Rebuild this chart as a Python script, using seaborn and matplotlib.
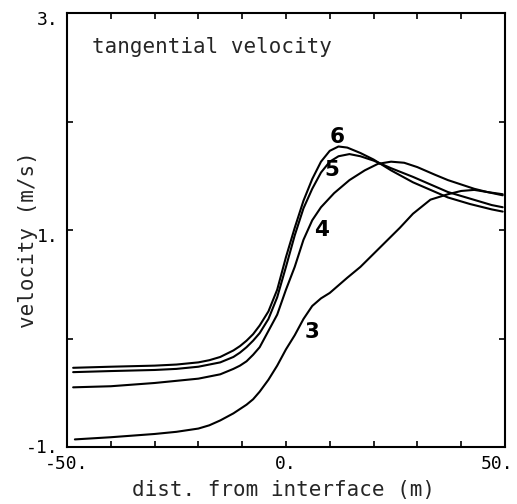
import matplotlib
matplotlib.use("Agg")
import matplotlib.pyplot as plt
import matplotlib.transforms as mtransforms
import numpy as np
import pandas as pd
import seaborn as sns

# Tangential velocity profiles across the interface, runs 3-6
x3 = [-48.2, -40, -30, -25, -20, -17.5, -15, -12, -9, -7.5, -6, -4, -2, 0, 2, 4, 6,
      8, 10, 12, 14, 17, 20.5, 23.5, 26, 29, 33, 37, 40, 43, 46, 49.5]
y3 = [-0.93, -0.91, -0.88, -0.86, -0.83, -0.80, -0.755, -0.69, -0.61, -0.56, -0.49,
      -0.38, -0.25, -0.10, 0.03, 0.18, 0.30, 0.37, 0.42, 0.49, 0.56, 0.66, 0.80,
      0.92, 1.02, 1.15, 1.28, 1.33, 1.36, 1.37, 1.35, 1.33]

x4 = [-48.6, -40, -30, -25, -20, -17.5, -15, -12, -10.5, -9, -7.5, -6, -4, -2, 0, 2,
      4, 6, 8, 11, 14.5, 18, 21, 24, 27, 30, 34, 37, 40, 43, 46, 49.5]
y4 = [-0.45, -0.44, -0.41, -0.39, -0.37, -0.35, -0.33, -0.28, -0.25, -0.21, -0.15,
      -0.08, 0.07, 0.22, 0.45, 0.66, 0.91, 1.09, 1.21, 1.34, 1.46, 1.55, 1.61, 1.63,
      1.62, 1.58, 1.51, 1.46, 1.42, 1.38, 1.35, 1.32]

x5 = [-48.6, -40, -30, -25, -20, -17.5, -15, -12, -10.5, -9, -7.5, -6, -4, -2, 0, 2,
      4, 6, 8, 10, 12, 14.5, 17, 20, 24, 29, 33, 37, 42, 47, 49.5]
y5 = [-0.31, -0.30, -0.29, -0.28, -0.26, -0.24, -0.22, -0.17, -0.13, -0.08, -0.02,
      0.05, 0.18, 0.38, 0.66, 0.95, 1.20, 1.38, 1.53, 1.63, 1.68, 1.70, 1.68, 1.64,
      1.57, 1.49, 1.42, 1.35, 1.29, 1.23, 1.21]

x6 = [-48.6, -40, -30, -25, -20, -17.5, -15, -12, -10.5, -9, -7.5, -6, -4, -2, 0, 2,
      4, 6, 8, 10, 12, 14, 17, 20, 24, 29, 33, 37, 42, 47, 49.5]
y6 = [-0.27, -0.26, -0.25, -0.24, -0.22, -0.20, -0.17, -0.11, -0.07, -0.02, 0.04,
      0.12, 0.25, 0.45, 0.75, 1.02, 1.27, 1.47, 1.63, 1.73, 1.77, 1.76, 1.71, 1.65,
      1.55, 1.44, 1.37, 1.30, 1.24, 1.19, 1.17]

run_names = ["3", "4", "5", "6"]
label_x = [5.9, 8.2, 10.5, 11.6]
label_y = [0.06, 1.00, 1.55, 1.86]

x_ticks = [-50, -40, -30, -20, -10, 0, 10, 20, 30, 40, 50]
x_tick_labels = ["-50.", "", "", "", "", "0.", "", "", "", "", "50."]
y_ticks = [-1, 0, 1, 2, 3]
y_tick_labels = ["-1.", "", "1.", "", "3."]

frames = []
for name, xs, ys in zip(run_names, [x3, x4, x5, x6], [y3, y4, y5, y6]):
    frames.append(pd.DataFrame({"dist": xs, "vel": ys, "run": name}))
df = pd.concat(frames, ignore_index=True)

sns.set_style("ticks")
plt.rcParams["font.family"] = ["DejaVu Sans Mono", "DejaVu Sans"]

fig = plt.figure(figsize=(5.17, 5.04), dpi=100)
ax = fig.add_axes([0.1296, 0.1131, 0.847, 0.861])

sns.lineplot(data=df, x="dist", y="vel", hue="run", units="run", estimator=None,
             sort=False, palette=["black"] * 4, linewidth=1.5, legend=False, ax=ax)

for name, lx, ly in zip(run_names, label_x, label_y):
    ax.text(lx, ly, name, fontsize=15.5, fontweight="bold", family="DejaVu Sans",
            ha="center", va="center", color="black")

ax.set_xlim(-50, 50)
ax.set_ylim(-1, 3)
ax.set_xticks(x_ticks)
ax.set_xticklabels(x_tick_labels)
ax.set_yticks(y_ticks)
ax.set_yticklabels(y_tick_labels)
ax.tick_params(direction="in", length=4, width=1.2, top=True, right=True,
               labelsize=13, colors="black")
ax.tick_params(axis="x", pad=6)
ax.tick_params(axis="y", pad=6)

# nudge the y labels down a little, and the right-hand x label inward
for lab, dy in zip(ax.get_yticklabels(), [1, 0, -5, 0, -5]):
    lab.set_transform(lab.get_transform() +
                      mtransforms.ScaledTranslation(0, dy / 100, fig.dpi_scale_trans))
xl = ax.get_xticklabels()
xl[-1].set_transform(xl[-1].get_transform() +
                     mtransforms.ScaledTranslation(-8 / 100, 0, fig.dpi_scale_trans))

for sp in ax.spines.values():
    sp.set_linewidth(1.5)
    sp.set_color("black")

ax.set_xlabel("dist. from interface (m)", fontsize=15, va="center")
ax.set_ylabel("velocity (m/s)", fontsize=15, va="center")
ax.xaxis.set_label_coords(0.495, -0.099)
ax.yaxis.set_label_coords(-0.089, 0.477)

ax.text(0.057, 0.922, "tangential velocity", transform=ax.transAxes,
        fontsize=15, ha="left", va="center")

fig.savefig("out.png", dpi=100)
